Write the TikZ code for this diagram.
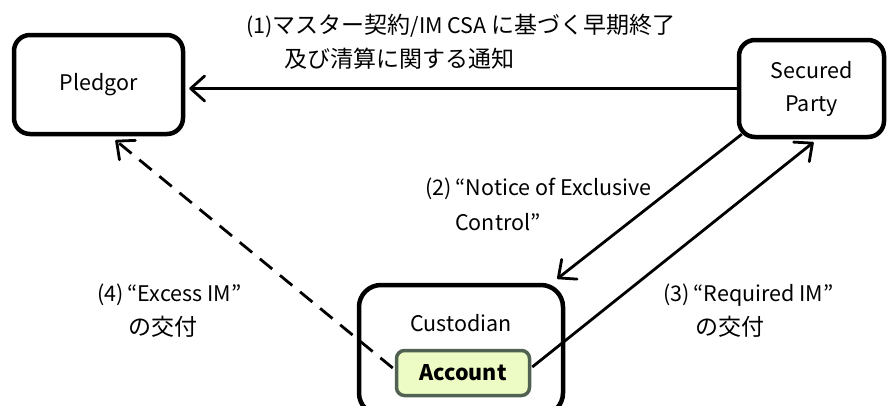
\documentclass[tikz,border=0pt]{standalone}
\usepackage{fontspec}
\setmainfont{Noto Sans CJK JP}
\usetikzlibrary{arrows.meta,calc}
\definecolor{acctfill}{RGB}{236,252,196}
\definecolor{acctline}{RGB}{82,98,82}
\newcommand{\jpx}[1]{{\fontsize{23}{24}\selectfont #1}}
\begin{document}
\begin{tikzpicture}[x=1pt,y=-1pt,
  box/.style={draw, line width=4.5pt, rounded corners=16pt, inner sep=0pt, align=center, font=\fontsize{21.5}{33}\selectfont},
  lbl/.style={anchor=west, inner sep=0pt, font=\fontsize{21.5}{24}\selectfont},
  arr/.style={line width=2.8pt, line join=round, -{Straight Barb[length=14pt,width=25pt,round]}},
  dasharr/.style={arr, dash pattern=on 16pt off 10pt}]
\useasboundingbox (0,0) rectangle (888,405);
\clip (0,0) rectangle (888,405);
\node[box, minimum width=169pt, minimum height=99pt] (pledgor) at (98.5,84.5) {Pledgor};
\node[box, minimum width=145pt, minimum height=97pt] (sp) at (811.5,88.5) {Secured\\Party};
\node[box, rounded corners=22pt, minimum width=204pt, minimum height=130pt] (cust) at (461,350) {};
\node[lbl, anchor=center] (custtext) at (461,323) {Custodian};
\node[draw=acctline, fill=acctfill, line width=3.5pt, rounded corners=8pt, inner sep=0pt, minimum width=133pt, minimum height=45pt, font=\fontsize{21.5}{24}\selectfont\bfseries] (account) at (463,373) {Account};
\draw[arr] (sp.west) -- ($(pledgor.east |- sp.west)+(4,0)$);
\draw[arr] ($(sp.south west)+(5,-5)$) -- ($(cust.north east)+(-8,-4)$);
\draw[arr] ($(account.east)+(1,-6)$) -- ($(sp.south)+(2,3)$);
\draw[dasharr] ($(account.west)+(-2,-5)$) -- ($(pledgor.south)+(17,4)$);
\node[lbl] (l1a) at (246,26) {(1)\jpx{マスター契約}/IM CSA \jpx{に基づく早期終了}};
\node[lbl] (l1b) at (284,59) {\jpx{及び清算に関する通知}};
\node[lbl] (l2a) at (425,189) {(2)\hspace{4pt}“Notice of Exclusive};
\node[lbl] (l2b) at (455,222) {Control”};
\node[lbl] (l3a) at (663,295) {(3)\hspace{4pt}“Required IM”};
\node[lbl] (l3b) at (695,327) {\jpx{の交付}};
\node[lbl] (l4a) at (97,295) {(4)\hspace{4pt}“Excess IM”};
\node[lbl] (l4b) at (128,327) {\jpx{の交付}};
\end{tikzpicture}
\end{document}
